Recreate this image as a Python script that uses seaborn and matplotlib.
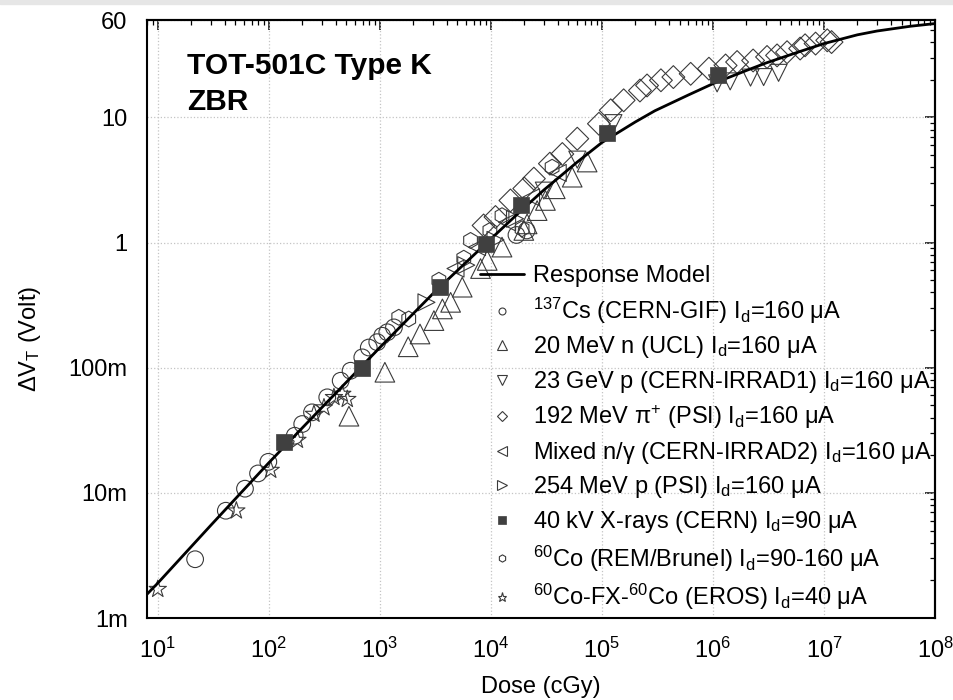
import matplotlib
matplotlib.use("Agg")
import matplotlib.pyplot as plt
import seaborn as sns
from matplotlib.lines import Line2D
from matplotlib.patches import Rectangle
from matplotlib.ticker import (FixedLocator, FuncFormatter, LogLocator,
                               LogFormatterSciNotation, NullFormatter)

# ---------------------------------------------------------------- data
# response model (dose in cGy, threshold-voltage shift in V)
model_dose = [8, 10, 30, 100, 300, 1e3, 3e3, 1e4, 2e4, 3e4, 6e4, 1e5, 2e5,
              3e5, 6e5, 1e6, 2e6, 3e6, 6e6, 1e7, 2e7, 3e7, 6e7, 1e8]
model_volt = [1.55e-3, 1.9e-3, 5.5e-3, 0.0174, 0.048, 0.145, 0.39, 1.07,
              1.9, 2.63, 4.4, 6.3, 9.2, 11.3, 15.1, 18.6, 23.7, 27.2, 33.5,
              38.9, 45.7, 49.0, 53.5, 56.2]

cs_dose = [21.7, 41, 61, 80, 99, 171, 200, 245, 336, 444, 545, 695, 795, 948,
           1050, 1167, 1340, 17000, 21000]
cs_volt = [0.00295, 0.0072, 0.0108, 0.0143, 0.0177, 0.0286, 0.0355, 0.044,
           0.058, 0.0787, 0.0946, 0.121, 0.145, 0.160, 0.180, 0.192, 0.210,
           1.15, 1.25]

n_dose = [527, 1110, 1800, 2300, 3070, 3660, 4340, 5520, 8070, 9270, 12600,
          19800, 21200, 26100, 31000, 38000, 54000, 73600]
n_volt = [0.041, 0.092, 0.147, 0.186, 0.238, 0.295, 0.333, 0.44, 0.62, 0.72,
          0.92, 1.25, 1.41, 1.8, 2.17, 2.69, 3.33, 4.4]

p23_dose = [30000, 60000, 127000, 1.09e6, 1.43e6, 2.18e6, 2.86e6, 3.9e6]
p23_volt = [2.6, 4.6, 9.0, 18.7, 19.4, 20.8, 21.0, 22.7]

pi_dose = [8600, 11000, 15000, 20000, 24400, 34000, 44000, 60000, 94000,
           120000, 157000, 220000, 255000, 340000, 440000, 630000, 920000,
           1.3e6, 1.65e6, 2.3e6, 3.07e6, 3.78e6, 4.65e6, 6.1e6, 6.76e6,
           8.4e6, 1.07e7, 1.17e7]
pi_volt = [1.37, 1.6, 2.17, 2.7, 3.24, 4.27, 5.1, 6.76, 8.9, 11.4, 13.7,
           16.4, 18.0, 19.8, 21.0, 22.3, 24.5, 26.0, 27.7, 28.5, 30.4, 31.3,
           33.2, 35.5, 37.7, 38.9, 41.3, 40.0]

mix_dose = [4800, 7500, 14000, 23000, 40000]
mix_volt = [0.62, 0.92, 1.45, 2.3, 3.6]

p254_dose = [2630, 6000, 11000, 16500]
p254_volt = [0.333, 0.66, 1.05, 1.55]

xray_dose = [136, 686, 3450, 8950, 18500, 112000, 1.1e6]
xray_volt = [0.0256, 0.100, 0.445, 0.98, 1.98, 7.45, 21.7]

co_dose = [1480, 1820, 3400, 5700, 6560, 9800, 12600, 19100, 35600]
co_volt = [0.253, 0.245, 0.50, 0.75, 1.04, 1.25, 1.64, 1.29, 4.0]

eros_dose = [10, 51, 104, 181, 255, 314, 386, 459, 509]
eros_volt = [0.0017, 0.0072, 0.0152, 0.0264, 0.0426, 0.048, 0.058, 0.0616,
             0.056]

x_ticks = [1e1, 1e2, 1e3, 1e4, 1e5, 1e6, 1e7, 1e8]
y_ticks = [1e-3, 1e-2, 1e-1, 1, 10, 60]
y_tick_labels = ["1m", "10m", "100m", "1", "10", "60"]

labels = [
    "Response Model",
    r"$^{137}$Cs (CERN-GIF) I$_{\mathrm{d}}$=160 μA",
    r"20 MeV n (UCL) I$_{\mathrm{d}}$=160 μA",
    r"23 GeV p (CERN-IRRAD1) I$_{\mathrm{d}}$=160 μA",
    r"192 MeV π$^{+}$ (PSI) I$_{\mathrm{d}}$=160 μA",
    r"Mixed n/γ (CERN-IRRAD2) I$_{\mathrm{d}}$=160 μA",
    r"254 MeV p (PSI) I$_{\mathrm{d}}$=160 μA",
    r"40 kV X-rays (CERN) I$_{\mathrm{d}}$=90 μA",
    r"$^{60}$Co (REM/Brunel) I$_{\mathrm{d}}$=90-160 μA",
    r"$^{60}$Co-FX-$^{60}$Co (EROS) I$_{\mathrm{d}}$=40 μA",
]

# ---------------------------------------------------------------- style
sns.set_theme(style="white")
plt.rcParams.update({
    "font.family": ["Liberation Sans", "DejaVu Sans"],
    "mathtext.fontset": "custom",
    "mathtext.rm": "Liberation Sans",
    "mathtext.it": "Liberation Sans:italic",
    "mathtext.bf": "Liberation Sans:bold",
    "mathtext.sf": "Liberation Sans",
    "text.color": "black",
    "axes.labelcolor": "black",
    "axes.edgecolor": "black",
    "xtick.color": "black",
    "ytick.color": "black",
})

EDGE = "#3a3a3a"
FILL = "#404040"
LBL = 17

fig = plt.figure(figsize=(9.54, 7.0), dpi=100)
fig.patches.append(Rectangle((0, 1 - 4 / 700), 1, 4 / 700,
                             transform=fig.transFigure, color="#e6e6e6",
                             zorder=0))
ax = fig.add_axes([0.1541, 0.1171, 0.8260, 0.8543])
ax.set_xscale("log")
ax.set_yscale("log")

# open-marker series
series = [
    (cs_dose, cs_volt, "o", 144, 5.0),
    (n_dose, n_volt, "^", 200, 6.5),
    (p23_dose, p23_volt, "v", 150, 6.5),
    (pi_dose, pi_volt, "D", 135, 4.6),
    (mix_dose, mix_volt, "<", 150, 6.5),
    (p254_dose, p254_volt, ">", 150, 6.5),
]
handles = [Line2D([], [], color="black", lw=2.0)]
for dose, volt, mk, size, lsize in series:
    sns.scatterplot(x=dose, y=volt, marker=mk, s=size, facecolor="none",
                    edgecolor=EDGE, linewidth=0.8, ax=ax, zorder=2,
                    legend=False)
    handles.append(Line2D([], [], ls="none", marker=mk, ms=lsize, mfc="none",
                          mec=EDGE, mew=0.8))

# filled X-ray squares
sns.scatterplot(x=xray_dose, y=xray_volt, marker="s", s=117, color=FILL,
                edgecolor=FILL, linewidth=0.5, ax=ax, zorder=4, legend=False)
handles.append(Line2D([], [], ls="none", marker="s", ms=6, mfc=FILL,
                      mec=FILL, mew=0.5))

for dose, volt, mk, size, lsize in [(co_dose, co_volt, "h", 130, 5.2),
                                    (eros_dose, eros_volt, "*", 170, 6.5)]:
    sns.scatterplot(x=dose, y=volt, marker=mk, s=size, facecolor="none",
                    edgecolor=EDGE, linewidth=0.8, ax=ax, zorder=2,
                    legend=False)
    handles.append(Line2D([], [], ls="none", marker=mk, ms=lsize, mfc="none",
                          mec=EDGE, mew=0.8))

# response model curve
sns.lineplot(x=model_dose, y=model_volt, color="black", lw=2.0, ax=ax,
             sort=False, estimator=None, zorder=3, legend=False)

# ---------------------------------------------------------------- axes
ax.set_xlim(8, 1e8)
ax.set_ylim(1e-3, 60)
ax.xaxis.set_major_locator(FixedLocator(x_ticks))
ax.xaxis.set_major_formatter(LogFormatterSciNotation())
ax.xaxis.set_minor_locator(LogLocator(base=10, subs=range(2, 10), numticks=30))
ax.xaxis.set_minor_formatter(NullFormatter())
ax.yaxis.set_major_locator(FixedLocator(y_ticks))
ax.yaxis.set_major_formatter(
    FuncFormatter(lambda v, pos: dict(zip(y_ticks, y_tick_labels)).get(v, "")))
ax.yaxis.set_minor_locator(LogLocator(base=10, subs=range(2, 10), numticks=30))
ax.yaxis.set_minor_formatter(NullFormatter())

ax.tick_params(which="major", direction="out", length=7.5, width=1.1,
               labelsize=LBL, pad=6.5)
ax.tick_params(which="minor", direction="out", length=3.8, width=0.9)
for sp in ax.spines.values():
    sp.set_linewidth(1.5)
    sp.set_color("black")

# mirrored inward ticks on top and right
top = ax.secondary_xaxis("top")
right = ax.secondary_yaxis("right")
for sec, axis, locs in [(top, top.xaxis, x_ticks), (right, right.yaxis, y_ticks)]:
    axis.set_major_locator(FixedLocator(locs))
    axis.set_minor_locator(LogLocator(base=10, subs=range(2, 10), numticks=30))
    axis.set_major_formatter(NullFormatter())
    axis.set_minor_formatter(NullFormatter())
    sec.tick_params(which="major", direction="in", length=7.5, width=1.1)
    sec.tick_params(which="minor", direction="in", length=3.8, width=0.9)
    for sp in sec.spines.values():
        sp.set_linewidth(1.5)

ax.grid(True, which="major", color="#c4c4c4", ls=":", lw=0.9)
ax.set_axisbelow(True)

ax.set_xlabel("Dose (cGy)", fontsize=17)
ax.set_ylabel(r"ΔV$_{\mathrm{T}}$ (Volt)", fontsize=17)
ax.xaxis.set_label_coords(0.5, -0.097)
ax.yaxis.set_label_coords(-0.132, 0.466)

ax.text(0.0508, 0.946, "TOT-501C Type K\nZBR", transform=ax.transAxes,
        fontsize=21.5, fontweight="bold", va="top", ha="left",
        linespacing=1.35)

ax.legend(handles=handles, labels=labels, loc="upper left",
          bbox_to_anchor=(0.4226, 0.590), frameon=False, fontsize=17,
          handlelength=1.85, handletextpad=0.4, labelspacing=0.36,
          borderpad=0, borderaxespad=0)

fig.savefig("out.png", dpi=100)
